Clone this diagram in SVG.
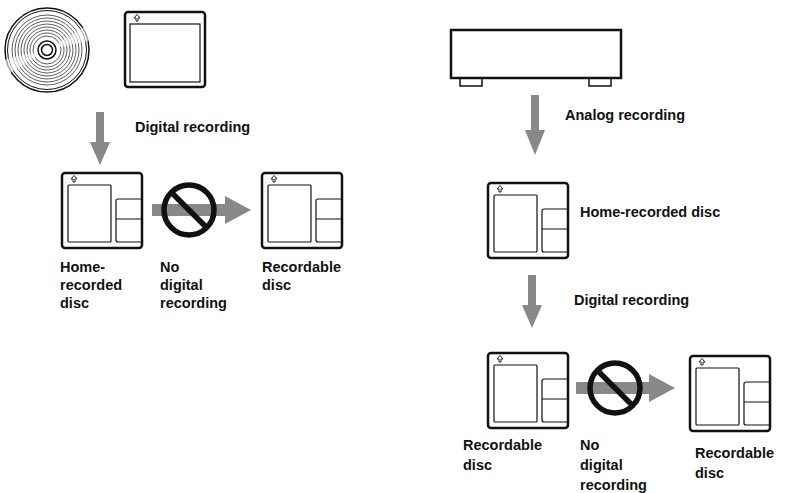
<svg xmlns="http://www.w3.org/2000/svg" width="795" height="493" viewBox="0 0 795 493">
<style>
text{font-family:"Liberation Sans",Arial,sans-serif;font-weight:bold;font-size:14.5px;fill:#111}
.l{fill:none;stroke:#111}
.ar{fill:#888}
</style>
<defs>
<symbol id="md" viewBox="-2 -2 84 79" width="84" height="79" overflow="visible">
<rect x="0" y="0" width="80" height="75" rx="3" class="l" stroke-width="2.5"/>
<rect x="6" y="12" width="43" height="57" rx="1" class="l" stroke-width="1.2"/>
<path d="M80 26 H56 a2 2 0 0 0 -2 2 V67 a2 2 0 0 0 2 2 H80 M54 46 H80" class="l" stroke-width="1.2"/>
<path d="M11 9 V6 H9 L12 2.5 L15 6 H13 V9 Z" class="l" stroke-width="0.9"/>
</symbol>
<g id="nosign">
<path d="M0 -6 H74 V6 H0 Z" class="ar"/>
<path d="M73 -14 L99 0 L73 14 Z" class="ar"/>
</g>
</defs>
<g id="cd">
<circle cx="47" cy="50" r="42" class="l" stroke-width="1.5"/>
<circle cx="47" cy="50" r="39.5" class="l" stroke-width="1"/>
<g stroke="#333" fill="none" stroke-width="0.8">
<circle cx="47" cy="50" r="14"/><circle cx="47" cy="50" r="17"/><circle cx="47" cy="50" r="20"/><circle cx="47" cy="50" r="23"/><circle cx="47" cy="50" r="26"/><circle cx="47" cy="50" r="29"/><circle cx="47" cy="50" r="32"/><circle cx="47" cy="50" r="35"/>
</g>
<path d="M47 50 L92 22 L92 40 Z M47 50 L2 78 L2 60 Z" fill="#fff" opacity="0.6"/>
<circle cx="47" cy="50" r="9" fill="#fff" stroke="#111" stroke-width="1.5"/>
<circle cx="47" cy="50" r="5.5" class="l" stroke-width="1.5"/>
</g>
<g id="md-source">
<rect x="125" y="12" width="80" height="75" rx="3" class="l" stroke-width="2.5"/>
<rect x="130" y="24" width="70" height="58" class="l" stroke-width="1.2"/>
<path d="M136 21 V18 H134 L137 14.5 L140 18 H138 V21 Z" class="l" stroke-width="0.9"/>
</g>
<g id="deck">
<rect x="451" y="30" width="170" height="48" class="l" stroke-width="2.5"/>
<rect x="460" y="78" width="22" height="8" class="l" stroke-width="1.5"/>
<rect x="589" y="78" width="22" height="8" class="l" stroke-width="1.5"/>
</g>
<g id="md-left-home"><use href="#md" x="60" y="171"/>
<text x="60" y="272">Home-</text><text x="60" y="290">recorded</text><text x="60" y="308">disc</text></g>
<g id="md-left-rec"><use href="#md" x="260" y="171"/>
<text x="262" y="272">Recordable</text><text x="262" y="290">disc</text></g>
<g id="md-right-home"><use href="#md" x="486" y="181"/>
<text x="580" y="217">Home-recorded disc</text></g>
<g id="md-right-rec1"><use href="#md" x="486" y="351"/>
<text x="463" y="450">Recordable</text><text x="463" y="470">disc</text></g>
<g id="md-right-rec2"><use href="#md" x="688" y="354"/>
<text x="695" y="458">Recordable</text><text x="695" y="478">disc</text></g>
<g id="connectors">
<path class="ar" d="M96 112 H104 V142 H110 L100 165 L90 142 H96 Z"/>
<text x="135" y="132">Digital recording</text>
<path class="ar" d="M531 95 H539 V130 H545 L535 155 L525 130 H531 Z"/>
<text x="565" y="120">Analog recording</text>
<path class="ar" d="M528 275 H536 V305 H542 L532 328 L522 305 H528 Z"/>
<text x="574" y="305">Digital recording</text>
<use href="#nosign" x="152" y="210"/>
<circle cx="189" cy="210" r="25" fill="none" stroke="#111" stroke-width="5.5"/>
<path d="M172 193 L206 227" stroke="#111" stroke-width="5.5"/>
<text x="160" y="272">No</text><text x="160" y="290">digital</text><text x="160" y="308">recording</text>
<use href="#nosign" x="576" y="388"/>
<circle cx="615" cy="388" r="25" fill="none" stroke="#111" stroke-width="5.5"/>
<path d="M598 371 L632 405" stroke="#111" stroke-width="5.5"/>
<text x="580" y="450">No</text><text x="580" y="470">digital</text><text x="580" y="490">recording</text>
</g>
</svg>
